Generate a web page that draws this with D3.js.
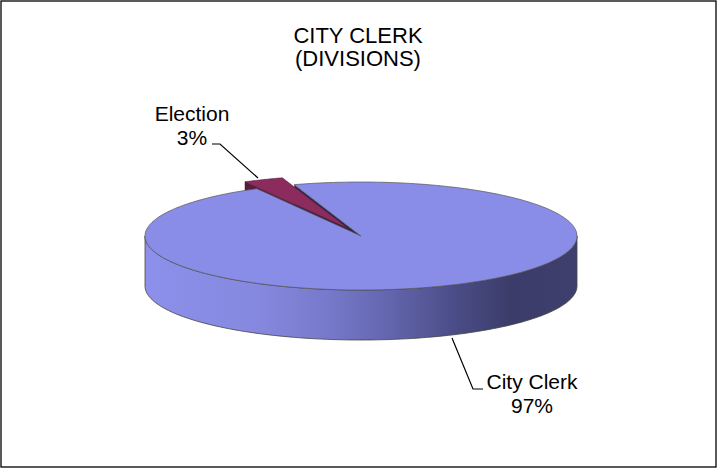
<!DOCTYPE html>
<html><head><meta charset="utf-8">
<script src="https://cdn.jsdelivr.net/npm/d3@7"></script>
<style>html,body{margin:0;padding:0;background:#fff}svg{display:block}</style>
</head><body>
<svg id="c" width="718" height="469"></svg>
<script>
const categories = ["City Clerk", "Election"];
const values = [97, 3];
const labels = ["City Clerk\n97%", "Election\n3%"];
const titleLines = ["CITY CLERK", "(DIVISIONS)"];
const colorsTop = ["#8a8de8", "#8c2b5d"];
const colorsSide = ["#6f72c8", "#5c1a3d"];

const W = 718, H = 469;
const svg = d3.select("#c");
const cx = 361, cy = 236, rx = 216, ry = 54, depth = 50, explode = 30;
const font = "'Liberation Sans', Arial, sans-serif";

svg.append("rect").attr("x",1).attr("y",1).attr("width",W-3).attr("height",H-3)
  .attr("fill","#fff").attr("stroke","#000").attr("stroke-width",1.3);

// pie layout; d3 angles: 0 at 12 o'clock clockwise -> screen angle = a - PI/2
const pie = d3.pie().sort(null).value(d=>d).startAngle(342*Math.PI/180).endAngle(342*Math.PI/180 + 2*Math.PI);
const arcs = pie(values).map((d,i)=>({i, a0:d.startAngle-Math.PI/2, a1:d.endAngle-Math.PI/2, value:d.value}));

function P(theta, r, off, z){
  return [cx + off[0] + rx*r*Math.cos(theta), cy + off[1] + ry*r*Math.sin(theta) + z];
}
function offsetFor(d){
  if (d.i !== 1) return [0,0];
  const m = (d.a0+d.a1)/2;
  return [explode*Math.cos(m), explode*Math.sin(m)*ry/rx];
}
function arcPts(a0,a1,off,z,n){
  const pts=[]; n = n||Math.max(8, Math.ceil(Math.abs(a1-a0)*60));
  for(let k=0;k<=n;k++){ const t=a0+(a1-a0)*k/n; pts.push(P(t,1,off,z)); }
  return pts;
}
const line = d3.line();

const defs = svg.append("defs");
const grad = defs.append("linearGradient").attr("id","side").attr("gradientUnits","userSpaceOnUse")
  .attr("x1",cx-rx).attr("x2",cx+rx).attr("y1",0).attr("y2",0);
[[0,"#8d90ea"],[0.25,"#8689df"],[0.42,"#777acb"],[0.58,"#6163aa"],[0.72,"#4a4c86"],[0.85,"#3b3c69"],[1,"#3e3f6d"]]
  .forEach(s=>grad.append("stop").attr("offset",s[0]).attr("stop-color",s[1]));

const big = arcs[0], ele = arcs[1];
const eOff = offsetFor(ele);

{
  const c0 = P(0,0,eOff,0), o0 = P(ele.a0,1,eOff,0);
  svg.append("path").attr("d", line([c0,o0,[o0[0],o0[1]+depth],[c0[0],c0[1]+depth]])+"Z")
    .attr("fill", colorsSide[1]).attr("stroke","#3a1026").attr("stroke-width",0.5);
}
{
  const top = arcPts(0, Math.PI, [0,0], 0, 120);
  const bot = arcPts(Math.PI, 0, [0,0], depth, 120);
  svg.append("path").attr("d", line(top.concat(bot))+"Z").attr("fill","url(#side)")
    .attr("stroke","#444").attr("stroke-width",0.8);
}
{
  const c0 = P(0,0,[0,0],0), o0 = P(big.a0,1,[0,0],0);
  svg.append("path").attr("d", line([c0,o0,[o0[0],o0[1]+depth],[c0[0],c0[1]+depth]])+"Z")
    .attr("fill","#2b2b4a");
}
{
  const pts = [P(0,0,[0,0],0)].concat(arcPts(big.a0, big.a1, [0,0], 0, 300));
  svg.append("path").attr("d", line(pts)+"Z").attr("fill", colorsTop[0])
    .attr("stroke","#555").attr("stroke-width",0.7).attr("stroke-linejoin","round");
}
{
  const pts = [P(0,0,eOff,0)].concat(arcPts(ele.a0, ele.a1, eOff, 0, 20));
  svg.append("path").attr("d", line(pts)+"Z").attr("fill", colorsTop[1])
    .attr("stroke","#4a1430").attr("stroke-width",0.5).attr("stroke-linejoin","round");
}

const title = svg.append("text").attr("font-family",font).attr("font-size",22).attr("fill","#000")
  .attr("text-anchor","middle");
titleLines.forEach((t,k)=>title.append("tspan").attr("x",358).attr("y",43+k*23).text(t));

const labelPos = [
  {x:532, y:389, lead:[[452,338],[473,389],[483,389]]},
  {x:192, y:121, lead:[[212,144],[220,144],[258,178]]}
];
labels.forEach((lab,i)=>{
  const lp = labelPos[i];
  const t = svg.append("text").attr("font-family",font).attr("font-size",21).attr("text-anchor","middle");
  lab.split("\n").forEach((s,k)=>t.append("tspan").attr("x",lp.x).attr("y",lp.y+k*24).text(s));
  svg.append("path").attr("d", line(lp.lead)).attr("fill","none").attr("stroke","#000").attr("stroke-width",1.2);
});
</script>
</body></html>
